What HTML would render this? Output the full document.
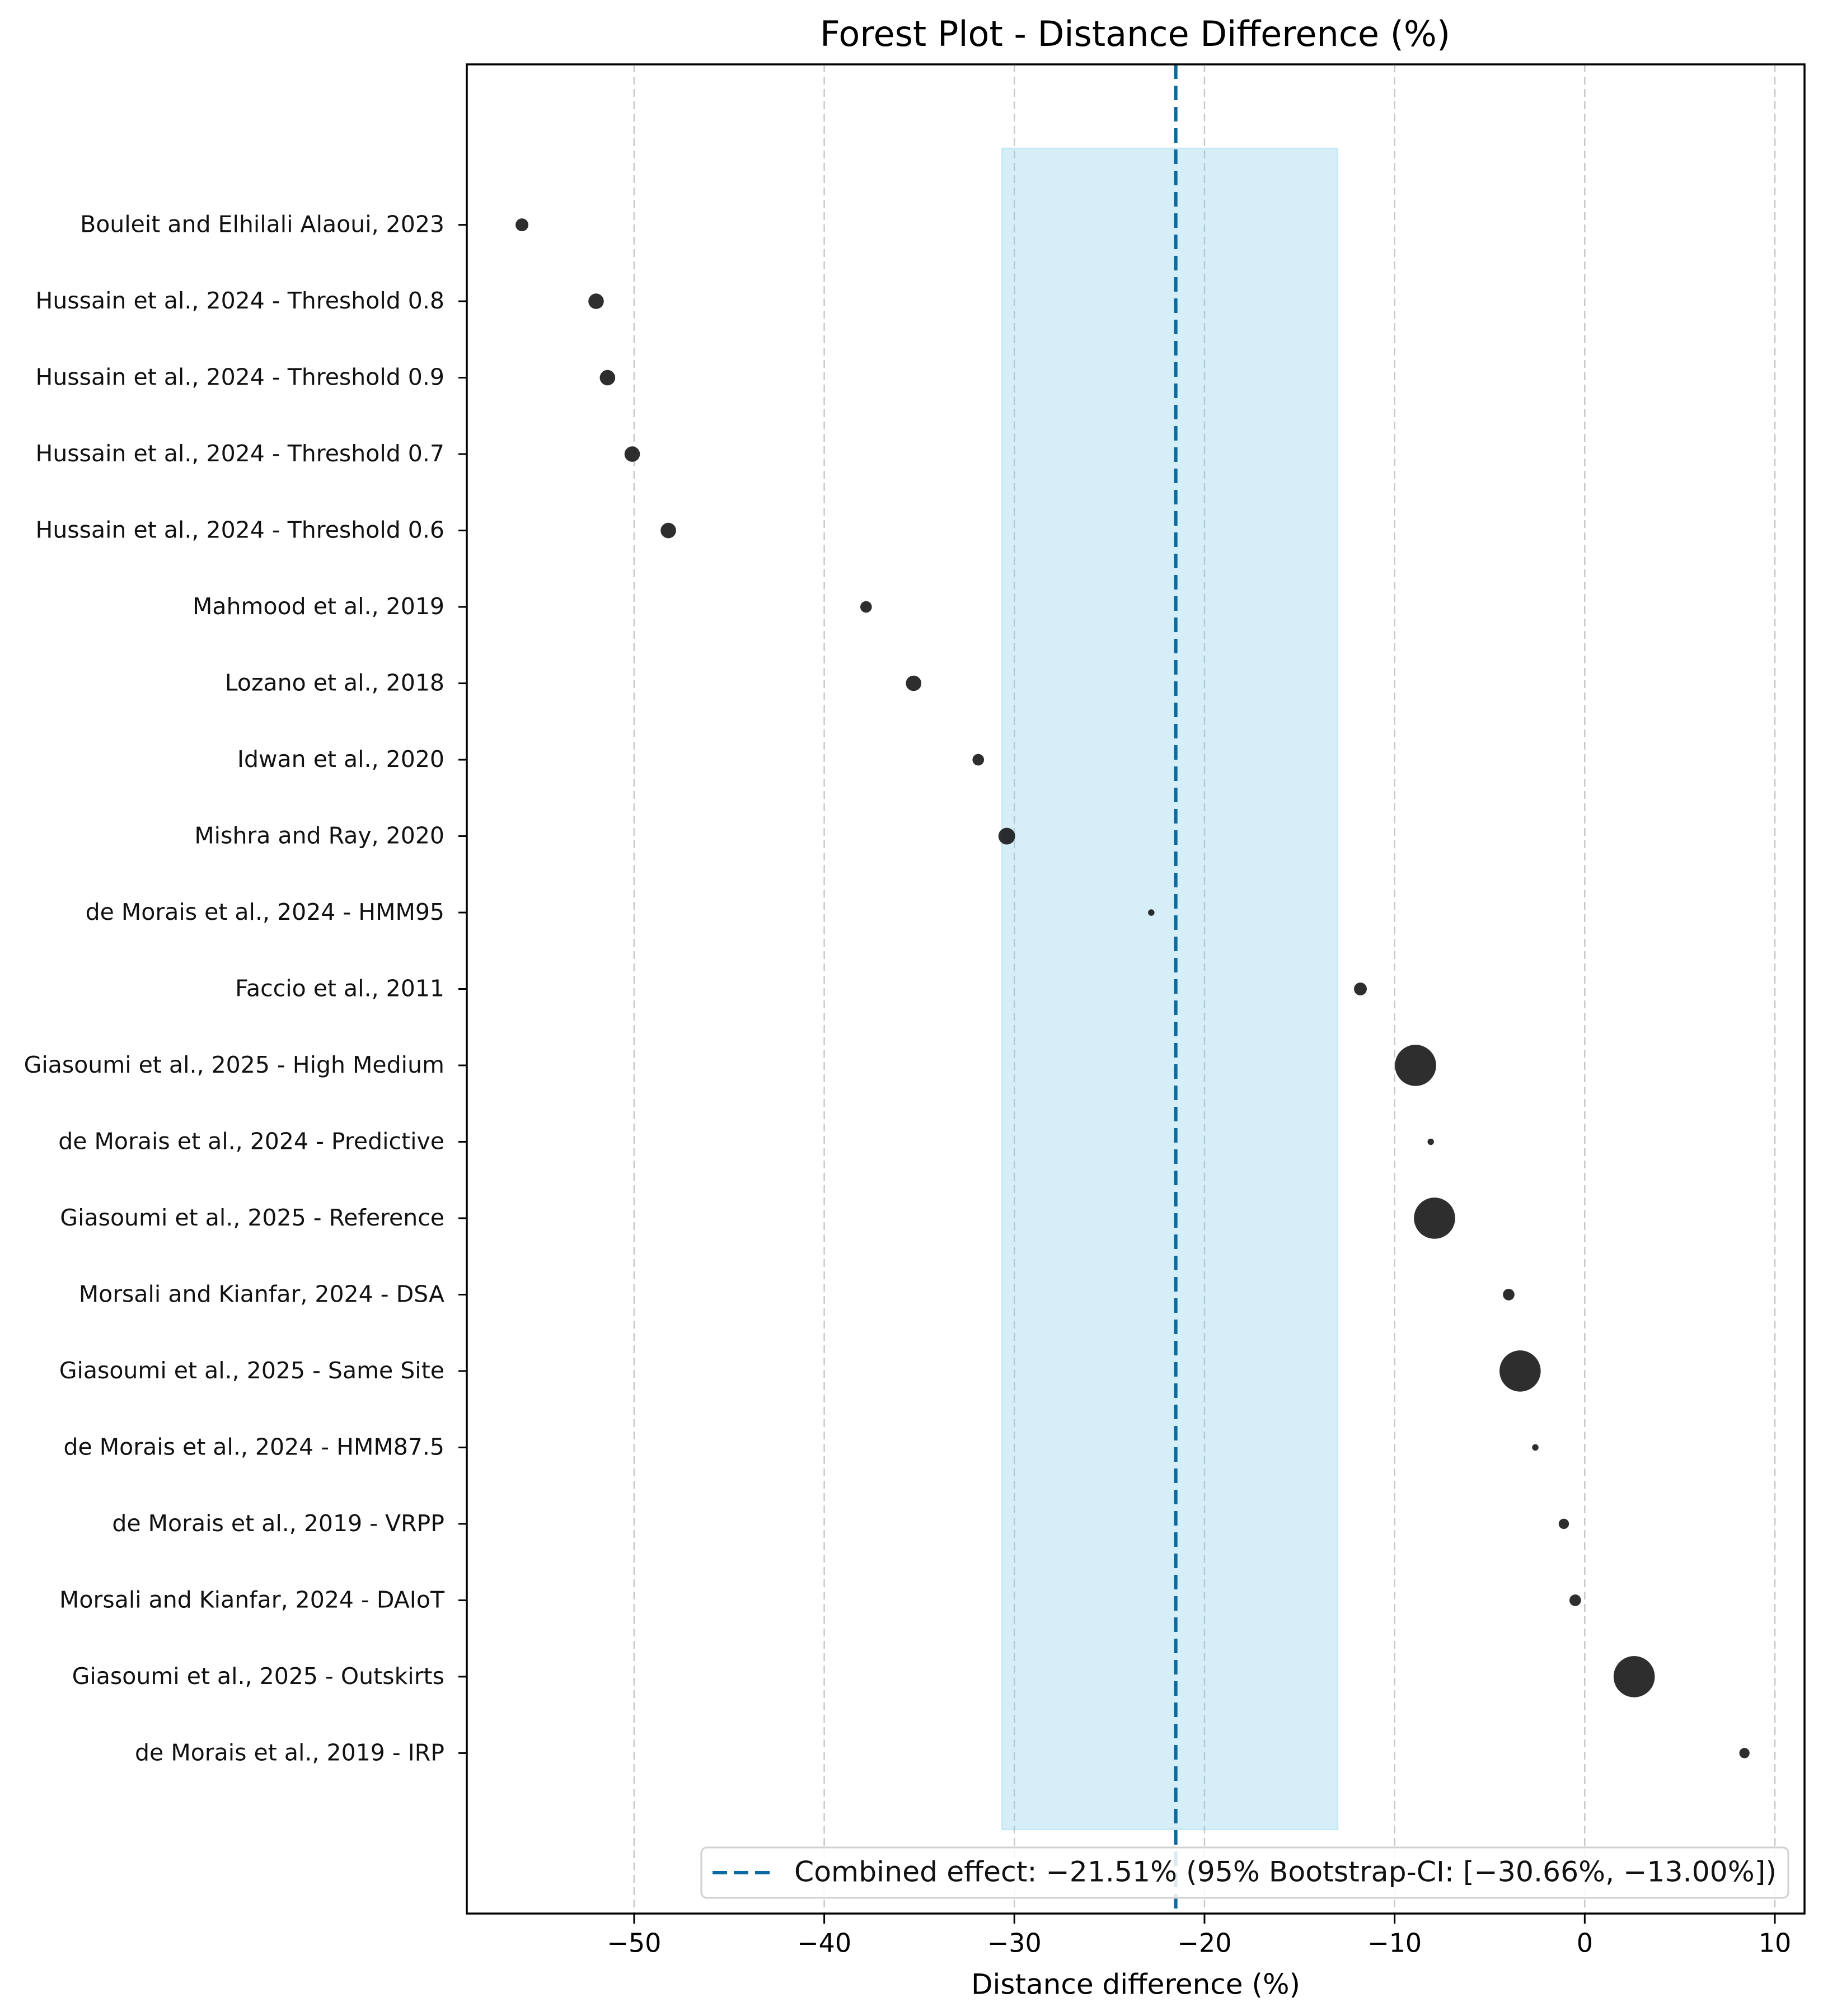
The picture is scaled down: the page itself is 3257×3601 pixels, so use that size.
<!DOCTYPE html>
<html><head><meta charset="utf-8"><style>
html,body{margin:0;padding:0;background:#fff}
svg{display:block;font-family:"DejaVu Sans","Liberation Sans",sans-serif}
</style></head><body>
<svg id="chart" width="3257" height="3601" viewBox="0 0 3257 3601" xmlns="http://www.w3.org/2000/svg">
<rect width="3257" height="3601" fill="#fff"/>
<text x="2028" y="65" font-size="62" text-anchor="middle" dominant-baseline="middle" fill="#000">Forest Plot - Distance Difference (%)</text>
<g id="plot"></g>
</svg>
<script>
const studies = ["Bouleit and Elhilali Alaoui, 2023","Hussain et al., 2024 - Threshold 0.8","Hussain et al., 2024 - Threshold 0.9","Hussain et al., 2024 - Threshold 0.7","Hussain et al., 2024 - Threshold 0.6","Mahmood et al., 2019","Lozano et al., 2018","Idwan et al., 2020","Mishra and Ray, 2020","de Morais et al., 2024 - HMM95","Faccio et al., 2011","Giasoumi et al., 2025 - High Medium","de Morais et al., 2024 - Predictive","Giasoumi et al., 2025 - Reference","Morsali and Kianfar, 2024 - DSA","Giasoumi et al., 2025 - Same Site","de Morais et al., 2024 - HMM87.5","de Morais et al., 2019 - VRPP","Morsali and Kianfar, 2024 - DAIoT","Giasoumi et al., 2025 - Outskirts","de Morais et al., 2019 - IRP"];
const effects = [-55.9,-52.0,-51.4,-50.1,-48.2,-37.8,-35.3,-31.9,-30.4,-22.8,-11.8,-8.9,-8.1,-7.9,-4.0,-3.4,-2.6,-1.1,-0.5,2.6,8.4];
const weights = [5,6,6,6,6,4.5,6,4.5,6.5,2.5,5,16,2.5,16,4.5,16,2.5,4,4.5,16,4];
const xTicks = [-50,-40,-30,-20,-10,0,10];
const combined = -21.51;
const ciLow = -30.66, ciHigh = -13.00;

const NS="http://www.w3.org/2000/svg";
const L=834,R=3224,T=115,B=3418;
const xMin=-58.8,xMax=11.56;
const yMin=-2.1,yMax=22.1;
const n=studies.length;
function xs(v){return L+(v-xMin)/(xMax-xMin)*(R-L);}
function ys(v){return B-(v-yMin)/(yMax-yMin)*(B-T);}
const g=document.getElementById('plot');
function mk(tag,attrs,parent){const e=document.createElementNS(NS,tag);for(const k in attrs)e.setAttribute(k,attrs[k]);(parent||g).appendChild(e);return e;}

xTicks.forEach(t=>{
  const l=mk('line',{x1:xs(t),x2:xs(t),y1:T,y2:B,stroke:'#c8c8c8','stroke-width':2.5,'stroke-dasharray':'14 8'});
  
  
});
const band=mk('rect',{x:xs(ciLow),y:ys(n),width:xs(ciHigh)-xs(ciLow),height:ys(-1)-ys(n),fill:'#87ceeb','fill-opacity':0.35,stroke:'#87ceeb','stroke-opacity':0.3,'stroke-width':3});


const cl=mk('line',{x1:xs(combined),x2:xs(combined),y1:T,y2:B,stroke:'#0a6aa0','stroke-width':6,'stroke-dasharray':'26 12'});


studies.forEach((s,i)=>{
  const yv=n-1-i;
  const c=mk('circle',{cx:xs(effects[i]),cy:ys(yv),r:weights[i]*2.3,fill:'#111','fill-opacity':0.88});
  
  
  const tk=mk('line',{x1:L-15,x2:L,y1:ys(yv),y2:ys(yv),stroke:'#000','stroke-width':3});
  
  
  const tx=mk('text',{x:L-40,y:ys(yv)+2,'font-size':41,'text-anchor':'end','dominant-baseline':'middle',fill:'#111'});
  tx.textContent=s;
  
  
});
xTicks.forEach(t=>{
  const tk=mk('line',{x1:xs(t),x2:xs(t),y1:B,y2:B+18,stroke:'#000','stroke-width':3});
  
  
  const tx=mk('text',{x:xs(t),y:B+56,'font-size':46,'text-anchor':'middle','dominant-baseline':'middle',fill:'#000'});
  tx.textContent=t<0?'\u2212'+Math.abs(t):String(t);
  
  
});
const fr=mk('rect',{x:L,y:T,width:R-L,height:B-T,fill:'none',stroke:'#000','stroke-width':3.5});


const xl=mk('text',{x:(L+R)/2,y:3548,'font-size':50,'text-anchor':'middle','dominant-baseline':'middle',fill:'#000'});
xl.textContent='Distance difference (%)';


const lg=mk('g',{});


mk('rect',{x:1253,y:3300,width:1942,height:90,rx:10,fill:'#fff','fill-opacity':0.85,stroke:'#d0d0d0','stroke-width':3},lg);
mk('line',{x1:1273,x2:1378,y1:3345,y2:3345,stroke:'#0a6aa0','stroke-width':6,'stroke-dasharray':'26 12'},lg);
const lt=mk('text',{x:1419,y:3347,'font-size':50,'dominant-baseline':'middle',fill:'#111',textLength:1755,lengthAdjust:'spacingAndGlyphs'},lg);
lt.textContent='Combined effect: \u221221.51% (95% Bootstrap-CI: [\u221230.66%, \u221213.00%])';


</script>
</body></html>
